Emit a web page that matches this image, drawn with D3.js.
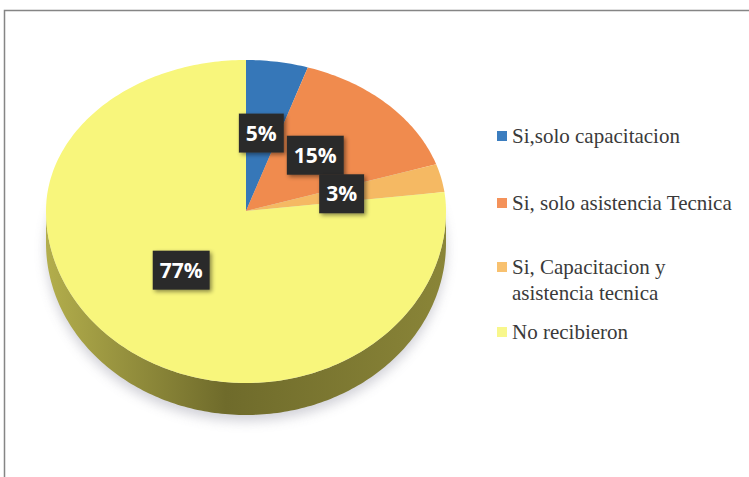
<!DOCTYPE html>
<html>
<head>
<meta charset="utf-8">
<script src="https://cdn.jsdelivr.net/npm/d3@7"></script>
<style>
  html, body { margin: 0; padding: 0; background: #fff; }
  svg { display: block; }
</style>
</head>
<body>
<svg id="chart" width="749" height="477"></svg>
<script>
// Survey answers: did the producers receive training / technical assistance?
const categories = [
  "Si,solo capacitacion",
  "Si, solo asistencia Tecnica",
  "Si, Capacitacion y asistencia tecnica",
  "No recibieron"
];
const values = [5, 15, 3, 77];
const legendLines = [
  ["Si,solo capacitacion"],
  ["Si, solo asistencia Tecnica"],
  ["Si, Capacitacion y", "asistencia tecnica"],
  ["No recibieron"]
];
const topColors    = ["#3677b8", "#f08b4e", "#f5b963", "#f8f67c"];
const sideColors   = ["#2a5a8a", "#b0602e", "#b88840", "#8f8b38"];
const legendColors = ["#3b7dbf", "#f4925a", "#f8c16f", "#f8f78c"];

const svg = d3.select("#chart");
const defs = svg.append("defs");

// Outer frame of the chart area
svg.append("rect")
  .attr("x", 4.5).attr("y", 10.5)
  .attr("width", 820).attr("height", 520)
  .attr("fill", "none")
  .attr("stroke", "#858585")
  .attr("stroke-width", 1.5);

// Tilted pie geometry: apex of the slices and the egg-shaped rim
const cx = 246, cy = 211;
const rx = 200, ryBack = 151, ryFront = 172;
const depth = 32;

function rim(theta, dy = 0) {
  const c = Math.cos(theta);
  const ry = c >= 0 ? ryBack : ryFront;
  return [cx + rx * Math.sin(theta), cy - ry * c + dy];
}

const pie = d3.pie().sort(null).value(d => d)
  .startAngle(0).endAngle(2 * Math.PI);
const arcs = pie(values);
const total = d3.sum(values);

function sample(a0, a1, dy = 0) {
  const n = Math.max(2, Math.ceil(Math.abs(a1 - a0) / (Math.PI / 180)));
  return d3.range(n + 1).map(i => rim(a0 + (a1 - a0) * i / n, dy));
}
const line = d3.line();

// Soft shadow beneath the pie
defs.append("filter").attr("id", "blur")
  .attr("x", "-20%").attr("y", "-20%").attr("width", "140%").attr("height", "140%")
  .append("feGaussianBlur").attr("stdDeviation", 6);
svg.append("path")
  .attr("d", line(sample(0, 2 * Math.PI, depth + 6)) + "Z")
  .attr("fill", "#9a9aa8")
  .attr("opacity", 0.45)
  .attr("filter", "url(#blur)");

// Side gradient for the visible front wall
const grad = defs.append("linearGradient").attr("id", "sideGrad")
  .attr("x1", "0%").attr("x2", "100%").attr("y1", "0%").attr("y2", "0%");
grad.append("stop").attr("offset", "0%").attr("stop-color", "#b3ae4c");
grad.append("stop").attr("offset", "45%").attr("stop-color", "#6f6b2b");
grad.append("stop").attr("offset", "100%").attr("stop-color", "#8a8538");

// Front wall of each slice (only the part between 90° and 270°)
arcs.forEach((a, i) => {
  const s = Math.max(a.startAngle, Math.PI / 2);
  const e = Math.min(a.endAngle, 3 * Math.PI / 2);
  if (e <= s) return;
  const pts = sample(s, e, 0).concat(sample(e, s, depth));
  svg.append("path")
    .attr("d", line(pts) + "Z")
    .attr("fill", i === 3 ? "url(#sideGrad)" : sideColors[i]);
});

// Top faces
svg.append("g").selectAll("path")
  .data(arcs)
  .join("path")
  .attr("d", a => line([[cx, cy]].concat(sample(a.startAngle, a.endAngle))) + "Z")
  .attr("fill", (a, i) => topColors[i]);

// Percentage labels in dark boxes
defs.append("filter").attr("id", "boxShadow")
  .attr("x", "-30%").attr("y", "-30%").attr("width", "160%").attr("height", "160%")
  .append("feDropShadow")
  .attr("dx", 2).attr("dy", 2).attr("stdDeviation", 2)
  .attr("flood-color", "#000").attr("flood-opacity", 0.45);

const fmt = d3.format(".0%");
const labelR = 0.49;
arcs.forEach(a => {
  const mid = (a.startAngle + a.endAngle) / 2;
  const lx = cx + labelR * rx * Math.sin(mid);
  const ly = cy - labelR * 161 * Math.cos(mid);
  const txt = fmt(a.value / total);
  const g = svg.append("g").attr("transform", `translate(${lx},${ly})`);
  const t = g.append("text")
    .attr("text-anchor", "middle")
    .attr("dy", "0.36em")
    .attr("font-family", "Open Sans, sans-serif")
    .attr("font-weight", 700)
    .attr("font-size", 21)
    .attr("fill", "#ffffff")
    .text(txt);
  const w = t.node().getComputedTextLength() + 14;
  g.insert("rect", "text")
    .attr("x", -w / 2).attr("y", -19.5)
    .attr("width", w).attr("height", 39)
    .attr("fill", "#2c2c2c")
    .attr("filter", "url(#boxShadow)");
});

// Legend
const legendX = 497, textX = 512;
const baselines = [[143], [210], [274, 300], [339]];
const legend = svg.append("g")
  .attr("font-family", "Liberation Serif, Times New Roman, serif")
  .attr("font-size", 21)
  .attr("fill", "#3a3a3a");
legendLines.forEach((lines, i) => {
  legend.append("rect")
    .attr("x", legendX).attr("y", baselines[i][0] - 12)
    .attr("width", 10).attr("height", 10)
    .attr("fill", legendColors[i]);
  lines.forEach((s, j) => {
    legend.append("text")
      .attr("x", textX).attr("y", baselines[i][j])
      .text(s);
  });
});
</script>
</body>
</html>
